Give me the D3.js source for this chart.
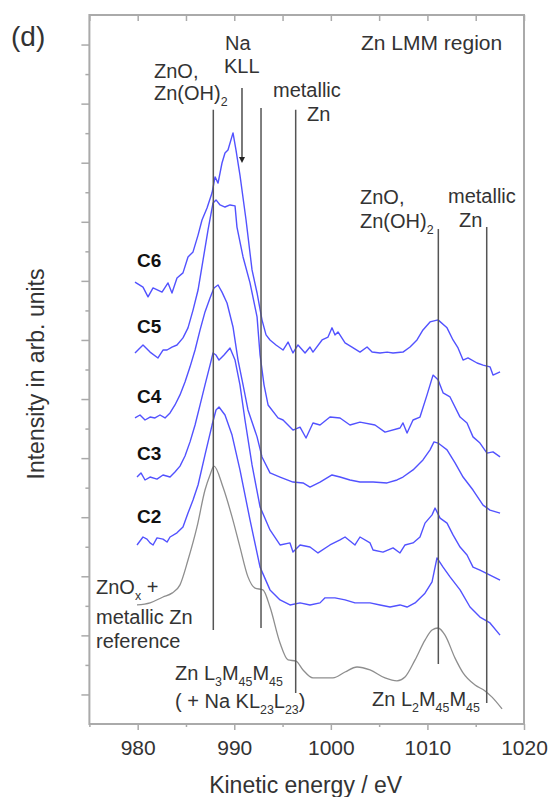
<!DOCTYPE html>
<html>
<head>
<meta charset="utf-8">
<script src="https://cdn.jsdelivr.net/npm/d3@7"></script>
<style>
  body { margin: 0; background: #fff; }
  text { font-family: "Liberation Sans", Arial, sans-serif; fill: #333; }
</style>
</head>
<body>
<div id="plot"></div>
<script>
// spectra: [kinetic energy (eV), intensity (arb. units, stacked)]
const spectrumC6 = [
  [979.72,14.96],[980.55,14.79],[981.07,14.46],[981.59,14.76],[982.52,14.62],[983.14,14.93],[983.55,14.59],
  [984.07,15.10],[984.69,15.27],[985.21,15.81],[985.73,15.98],[986.25,16.55],[986.66,17.06],[987.18,17.47],
  [987.70,17.98],[988.01,18.52],[988.32,18.31],[988.73,18.99],[989.04,19.33],[989.35,19.43],[989.87,20.01],
  [990.18,19.43],[990.59,18.58],[991.22,17.06],[991.84,15.37],[992.36,14.59],[992.87,13.68],[993.29,13.17],
  [993.70,13.00],[994.32,12.83],[995.05,12.66],[995.57,12.93],[996.08,12.56],[996.60,12.83],[997.33,12.56],
  [997.84,12.76],[998.15,12.59],[999.09,13.00],[999.71,13.10],[1000.12,13.41],[1000.43,13.17],[1000.74,13.27],
  [1001.47,12.90],[1002.19,12.76],[1003.02,12.59],[1003.75,12.76],[1004.27,12.59],[1005.09,12.56],[1005.82,12.59],
  [1006.44,12.56],[1007.47,12.59],[1008.20,12.76],[1008.92,13.00],[1009.54,13.34],[1010.27,13.61],[1011.10,13.68],
  [1012.03,13.41],[1012.65,13.00],[1013.17,12.73],[1013.69,12.32],[1014.20,12.39],[1015.14,12.22],[1015.76,12.15],
  [1016.48,12.09],[1016.79,11.81],[1017.52,11.92]
];
const spectrumC5 = [
  [979.72,12.56],[980.55,12.83],[981.28,12.59],[982.10,12.39],[982.62,12.66],[983.04,12.66],[983.55,12.76],
  [984.07,12.83],[984.69,13.07],[985.21,13.41],[985.73,14.01],[986.25,14.69],[986.77,15.71],[987.28,16.72],
  [987.80,17.64],[988.11,17.74],[988.53,17.57],[989.04,17.50],[989.56,17.57],[990.08,17.54],[990.28,16.82],
  [990.91,15.81],[991.63,14.93],[992.36,13.78],[992.67,12.49],[993.08,11.48],[993.50,10.80],[994.53,10.36],
  [995.05,10.29],[996.08,9.95],[996.81,10.05],[997.43,9.68],[998.15,10.19],[998.88,10.12],[999.91,10.39],
  [1000.95,10.36],[1001.98,10.12],[1003.02,10.22],[1004.57,10.12],[1005.61,9.88],[1007.16,10.02],[1007.47,10.19],
  [1007.89,9.85],[1008.51,10.29],[1009.23,10.39],[1009.96,11.14],[1010.58,11.81],[1011.10,11.65],[1011.62,11.21],
  [1012.34,11.07],[1013.38,10.39],[1014.10,10.19],[1014.72,9.72],[1015.44,9.51],[1016.17,9.17],[1016.79,9.21],
  [1017.52,9.04]
];
const spectrumC4 = [
  [979.72,10.36],[980.24,10.46],[980.76,10.29],[981.28,10.39],[981.79,10.36],[982.31,10.46],[982.83,10.36],
  [983.35,10.53],[983.86,10.80],[984.38,11.14],[984.90,11.58],[985.42,12.09],[985.94,12.66],[986.46,13.34],
  [986.97,13.95],[987.49,14.42],[987.90,14.76],[988.32,14.86],[988.73,14.62],[989.25,14.25],[989.87,13.44],
  [990.39,12.32],[990.91,11.48],[991.42,10.63],[992.36,9.72],[992.87,9.04],[993.70,8.50],[994.74,8.36],
  [996.08,8.19],[997.12,8.16],[997.84,8.02],[998.88,8.19],[1000.12,8.43],[1000.95,8.36],[1001.98,8.26],
  [1003.02,8.19],[1004.37,8.19],[1005.82,8.16],[1006.85,8.26],[1007.47,8.36],[1008.51,8.60],[1009.54,8.94],
  [1010.27,9.28],[1010.68,9.55],[1011.10,9.51],[1011.51,9.41],[1012.03,9.28],[1012.86,8.84],[1013.69,8.36],
  [1014.72,7.92],[1015.76,7.41],[1016.48,7.24],[1017.52,7.14]
];
const spectrumC3 = [
  [979.93,8.36],[980.34,8.50],[980.76,8.26],[981.28,8.36],[982.00,8.29],[982.62,8.43],[983.35,8.36],
  [983.86,8.53],[984.38,8.73],[984.90,9.07],[985.42,9.55],[985.94,10.12],[986.46,10.80],[986.97,11.48],
  [987.49,12.15],[987.80,12.56],[988.11,12.49],[988.42,12.32],[988.94,12.49],[989.56,12.73],[990.08,12.32],
  [990.59,11.48],[991.11,10.29],[991.84,8.77],[992.67,7.35],[993.70,6.57],[994.74,6.06],[995.77,6.13],
  [996.08,5.82],[996.81,6.06],[997.84,5.99],[998.67,5.79],[999.91,6.06],[1000.95,6.23],[1001.47,6.33],
  [1002.50,6.06],[1003.02,6.33],[1004.06,6.13],[1004.37,5.89],[1005.40,5.82],[1006.44,5.96],[1007.16,5.79],
  [1007.68,6.06],[1008.51,6.13],[1009.23,6.33],[1009.75,6.80],[1010.48,7.08],[1010.79,7.31],[1011.31,6.97],
  [1012.03,6.80],[1012.65,6.40],[1013.38,5.99],[1014.10,5.72],[1014.72,5.31],[1015.44,5.21],[1016.48,5.04],
  [1017.52,4.87]
];
const spectrumC2 = [
  [979.93,6.06],[980.55,6.33],[980.96,6.26],[981.28,6.13],[981.59,6.06],[982.00,6.30],[982.62,6.26],
  [983.04,6.16],[983.35,6.33],[984.07,6.47],[984.69,6.67],[985.21,7.14],[985.73,7.58],[986.25,8.09],
  [986.97,9.11],[987.70,10.12],[988.11,10.63],[988.42,10.73],[989.04,10.46],[989.77,9.78],[990.59,8.60],
  [991.63,6.91],[992.67,5.31],[993.70,4.54],[994.74,4.20],[995.77,4.03],[996.81,4.10],[997.84,4.03],
  [998.88,4.10],[999.40,4.27],[1000.43,4.27],[1001.47,4.20],[1002.50,4.10],[1004.06,4.10],[1005.09,4.03],
  [1006.13,3.96],[1007.16,4.03],[1007.89,3.96],[1008.72,4.10],[1009.75,4.43],[1010.48,4.81],[1010.99,5.62],
  [1011.62,5.31],[1012.34,4.98],[1013.38,4.54],[1014.41,3.96],[1015.44,3.62],[1016.48,3.42],[1017.52,3.01]
];
const spectrumRef = [
  [979.93,4.03],[981.28,4.10],[982.62,4.30],[983.55,4.43],[984.38,4.71],[985.21,5.55],[986.14,6.67],
  [986.97,7.92],[987.49,8.43],[987.90,8.73],[988.83,8.02],[989.77,7.01],[990.59,5.99],[991.42,4.98],
  [992.15,4.60],[992.97,4.54],[993.70,3.96],[994.74,2.74],[995.57,2.17],[996.39,2.13],[997.12,1.83],
  [998.15,1.56],[1000.22,1.56],[1001.47,1.76],[1002.71,1.93],[1004.06,1.83],[1005.61,1.56],[1006.85,1.46],
  [1007.68,1.59],[1008.72,2.17],[1009.75,2.84],[1010.48,3.18],[1011.10,3.25],[1011.82,3.01],[1012.86,2.23],
  [1013.69,1.73],[1014.93,1.32],[1015.97,1.12],[1016.69,0.91],[1017.73,0.51]
];

// marker lines: [energy, intensity bottom, intensity top]
const markerLines = [
  [987.83, 3.18, 20.79],
  [992.77, 3.25, 20.85],
  [996.36, 1.05, 20.79],
  [1011.13, 2.03, 16.76],
  [1016.14, 0.71, 16.82]
];
const naArrow = [990.8, 21.53, 18.99];

const xMajor = [980, 990, 1000, 1010, 1020];
const xMinor = [975, 985, 995, 1005, 1015];
const yMajor = [1, 3, 5, 7, 9, 11, 13, 15, 17, 19, 21, 23];
const yMinor = [2, 4, 6, 8, 10, 12, 14, 16, 18, 20, 22];

const width = 551, height = 797;

const svg = d3.select("#plot")
  .append("svg")
  .attr("width", width)
  .attr("height", height);

const x = d3.scaleLinear().domain([975, 1020]).range([89.4, 524]);
const y = d3.scaleLinear().domain([0, 24]).range([724, 15]);

const axisColor = "#aaaaaa";

// bottom axis
const gxMaj = svg.append("g")
  .attr("transform", "translate(0," + y(0) + ")")
  .call(d3.axisBottom(x).tickValues(xMajor).tickSize(6).tickPadding(10).tickFormat(d3.format("d")));
const gxMin = svg.append("g")
  .attr("transform", "translate(0," + y(0) + ")")
  .call(d3.axisBottom(x).tickValues(xMinor).tickSize(3).tickFormat(""));
// top axis (inward ticks)
const gxTop = svg.append("g")
  .attr("transform", "translate(0," + y(24) + ")")
  .call(d3.axisTop(x).tickValues(xMajor.concat(xMinor)).tickSize(-6).tickFormat(""));
// left axis
const gyMaj = svg.append("g")
  .attr("transform", "translate(" + x(975) + ",0)")
  .call(d3.axisLeft(y).tickValues(yMajor).tickSize(8).tickFormat(""));
const gyMin = svg.append("g")
  .attr("transform", "translate(" + x(975) + ",0)")
  .call(d3.axisLeft(y).tickValues(yMinor).tickSize(4).tickFormat(""));

[gxMaj, gxMin, gxTop, gyMaj, gyMin].forEach(g => {
  g.select(".domain").remove();
  g.selectAll(".tick line").attr("stroke", axisColor).attr("stroke-width", 1.5);
});
gxMaj.selectAll(".tick text")
  .attr("fill", "#333")
  .style("font-size", "21px")
  .style("font-family", "'Liberation Sans', Arial, sans-serif");

// frame
svg.append("rect")
  .attr("x", x(975)).attr("y", y(24))
  .attr("width", x(1020) - x(975)).attr("height", y(0) - y(24))
  .attr("fill", "none")
  .attr("stroke", axisColor)
  .attr("stroke-width", 2);

// spectra
const line = d3.line().x(d => x(d[0])).y(d => y(d[1]));
const smoothLine = d3.line().curve(d3.curveMonotoneX).x(d => x(d[0])).y(d => y(d[1]));

svg.append("path")
  .datum(spectrumRef)
  .attr("fill", "none")
  .attr("stroke", "#8e8e8e")
  .attr("stroke-width", 1.3)
  .attr("d", smoothLine);

[spectrumC2, spectrumC3, spectrumC4, spectrumC5, spectrumC6].forEach(s => {
  svg.append("path")
    .datum(s)
    .attr("fill", "none")
    .attr("stroke", "#5252ff")
    .attr("stroke-width", 1.4)
    .attr("stroke-linejoin", "round")
    .attr("d", line);
});

// marker lines
svg.append("g")
  .selectAll("line")
  .data(markerLines)
  .enter()
  .append("line")
  .attr("x1", d => x(d[0])).attr("x2", d => x(d[0]))
  .attr("y1", d => y(d[1])).attr("y2", d => y(d[2]))
  .attr("stroke", "#555")
  .attr("stroke-width", 1.5);

// Na KLL arrow
svg.append("line")
  .attr("x1", x(naArrow[0])).attr("x2", x(naArrow[0]))
  .attr("y1", y(naArrow[1])).attr("y2", y(naArrow[2]) - 5)
  .attr("stroke", "#333").attr("stroke-width", 1.3);
svg.append("path")
  .attr("d", "M" + (x(naArrow[0]) - 3) + "," + (y(naArrow[2]) - 6) +
             "L" + (x(naArrow[0]) + 3) + "," + (y(naArrow[2]) - 6) +
             "L" + x(naArrow[0]) + "," + y(naArrow[2]) + "Z")
  .attr("fill", "#222");

// text helper with subscripts: parts = [[string, isSub], ...]
function richText(px, py, parts, size) {
  const t = svg.append("text").attr("x", px).attr("y", py).style("font-size", size + "px");
  let sub = false;
  parts.forEach(p => {
    const ts = t.append("tspan").text(p[0]);
    if (p[1] && !sub) { ts.attr("dy", 6).style("font-size", (size * 0.62) + "px"); sub = true; }
    else if (p[1] && sub) { ts.style("font-size", (size * 0.62) + "px"); }
    else if (!p[1] && sub) { ts.attr("dy", -6); sub = false; }
  });
  return t;
}

svg.append("text").attr("x", 11).attr("y", 46).style("font-size", "28px").text("(d)");
svg.append("text").attr("x", 361).attr("y", 50).style("font-size", "21px").text("Zn LMM region");

richText(154, 78, [["ZnO,", false]], 20);
richText(154, 100, [["Zn(OH)", false], ["2", true]], 20);
richText(225, 50, [["Na", false]], 20);
richText(224, 73, [["KLL", false]], 20);
richText(273, 97, [["metallic", false]], 20);
richText(307, 121, [["Zn", false]], 20);
richText(360, 204, [["ZnO,", false]], 20);
richText(360, 228, [["Zn(OH)", false], ["2", true]], 20);
richText(448, 203, [["metallic", false]], 20);
richText(459, 227, [["Zn", false]], 20);

richText(96, 594, [["ZnO", false], ["x", true], [" +", false]], 20);
richText(96, 624, [["metallic Zn", false]], 20);
richText(96, 648, [["reference", false]], 20);

richText(175, 680, [["Zn L", false], ["3", true], ["M", false], ["45", true], ["M", false], ["45", true]], 20);
richText(175, 708, [["( + Na KL", false], ["23", true], ["L", false], ["23", true], [")", false]], 20);
richText(372, 706, [["Zn L", false], ["2", true], ["M", false], ["45", true], ["M", false], ["45", true]], 20);

// sample labels
const sampleLabels = ["C6", "C5", "C4", "C3", "C2"];
const labelBase = [267, 333, 403, 460, 523];
sampleLabels.forEach((s, i) => {
  svg.append("text").attr("x", 137).attr("y", labelBase[i])
    .style("font-size", "19px").style("font-weight", "bold").style("fill", "#111").text(s);
});

// axis titles
svg.append("text")
  .attr("x", (x(975) + x(1020)) / 2 - 1).attr("y", 793)
  .attr("text-anchor", "middle")
  .style("font-size", "23px")
  .text("Kinetic energy / eV");
svg.append("text")
  .attr("transform", "translate(44,374) rotate(-90)")
  .attr("text-anchor", "middle")
  .style("font-size", "23px")
  .text("Intensity in arb. units");
</script>
</body>
</html>
